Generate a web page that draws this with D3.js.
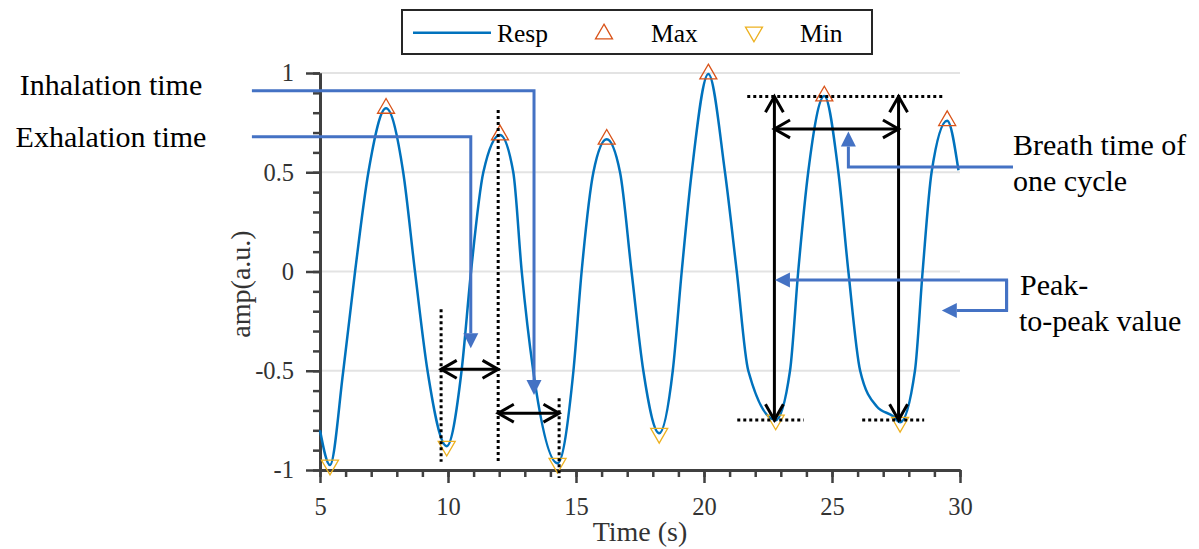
<!DOCTYPE html>
<html>
<head>
<meta charset="utf-8">
<script src="https://cdn.jsdelivr.net/npm/d3@7"></script>
<style>
  body { margin: 0; background: #fff; }
  svg { display: block; }
  svg text { font-family: "Liberation Serif", "Times New Roman", "DejaVu Serif", serif !important; }
</style>
</head>
<body>
<svg id="chart" width="1199" height="549"></svg>
<script>
// respiration signal
const respTime = [5.0, 5.39, 5.91, 6.37, 6.89, 7.58, 8.25, 8.71, 9.2, 9.95,
  10.53, 10.9, 11.38, 12.03, 12.55, 12.88, 13.33, 14.28, 14.9, 15.22,
  15.68, 16.2, 16.72, 17.17, 17.63, 18.25, 18.78, 19.13, 19.52, 20.17,
  20.82, 21.28, 21.73, 22.8, 23.36, 23.68, 24.07, 24.7, 25.25, 25.64,
  26.1, 26.75, 27.4, 27.66, 28.24, 28.54, 28.89, 29.5, 29.94];
const respAmp = [-0.80, -0.975, -0.5, 0, 0.5, 0.822, 0.5, 0, -0.5, -0.88,
  -0.5, 0, 0.5, 0.688, 0.5, 0, -0.5, -0.966, -0.5, 0,
  0.5, 0.666, 0.5, 0, -0.5, -0.815, -0.5, 0, 0.5, 0.995,
  0.5, 0, -0.5, -0.748, -0.5, 0, 0.5, 0.884, 0.5, 0,
  -0.5, -0.68, -0.73, -0.76, -0.5, 0, 0.5, 0.76, 0.51];

const maxTime = [7.58, 12.03, 16.2, 20.17, 24.7, 29.5];
const maxAmp = [0.822, 0.688, 0.666, 0.995, 0.884, 0.76];
const minTime = [5.39, 9.95, 14.28, 18.25, 22.8, 27.66];
const minAmp = [-0.975, -0.88, -0.966, -0.815, -0.748, -0.76];

const xTicks = [5, 10, 15, 20, 25, 30];
const yTicks = [-1, -0.5, 0, 0.5, 1];
const legendLabels = ["Resp", "Max", "Min"];

const lineColor = "#0072BD";
const maxColor = "#D95319";
const minColor = "#EDB120";
const blue = "#4472C4";
const axisColor = "#404040";
const serif = "'Liberation Serif', 'Times New Roman', 'DejaVu Serif', serif";

const svg = d3.select("#chart");
const x = d3.scaleLinear().domain([5, 30]).range([320, 960]);
const y = d3.scaleLinear().domain([-1, 1]).range([470, 73]);

// grid
svg.append("g")
  .selectAll("line")
  .data(yTicks.filter(d => d > -1))
  .join("line")
  .attr("x1", x(5)).attr("x2", x(30))
  .attr("y1", d => y(d)).attr("y2", d => y(d))
  .attr("stroke", "#e3e3e3")
  .attr("stroke-width", 2);

// axes
function styleAxis(g) {
  g.attr("font-family", serif);
  g.select(".domain").attr("stroke", axisColor).attr("stroke-width", 3);
  g.selectAll(".tick line").attr("stroke", axisColor).attr("stroke-width", 2.5);
  g.selectAll(".tick text").attr("fill", "#333").attr("font-size", 24.5);
}

svg.append("g")
  .attr("transform", `translate(0,${y(-1)})`)
  .call(d3.axisBottom(x).tickValues(d3.range(5, 31)).tickSize(7).tickFormat("").tickSizeOuter(0))
  .call(styleAxis);
svg.append("g")
  .attr("transform", `translate(0,${y(-1)})`)
  .call(d3.axisBottom(x).tickValues(xTicks).tickSize(13).tickPadding(15).tickSizeOuter(0))
  .call(styleAxis);
svg.append("g")
  .attr("transform", `translate(${x(5)},0)`)
  .call(d3.axisLeft(y).tickValues(d3.range(-10, 11).map(d => d / 10)).tickSize(7).tickFormat("").tickSizeOuter(0))
  .call(styleAxis);
svg.append("g")
  .attr("transform", `translate(${x(5)},0)`)
  .call(d3.axisLeft(y).tickValues(yTicks).tickSize(14).tickPadding(12).tickSizeOuter(0)
    .tickFormat(d => d))
  .call(styleAxis);

svg.append("text")
  .attr("x", 640).attr("y", 541)
  .attr("text-anchor", "middle")
  .attr("font-family", serif)
  .attr("font-size", 28).attr("fill", "#333")
  .text("Time (s)");
svg.append("text")
  .attr("transform", "translate(250,284) rotate(-90)")
  .attr("text-anchor", "middle")
  .attr("font-family", serif)
  .attr("font-size", 28).attr("fill", "#333")
  .text("amp(a.u.)");

// signal
const resp = respTime.map((t, i) => [t, respAmp[i]]);
svg.append("path")
  .datum(resp)
  .attr("fill", "none")
  .attr("stroke", lineColor)
  .attr("stroke-width", 2.5)
  .attr("d", d3.line().x(d => x(d[0])).y(d => y(d[1])).curve(d3.curveMonotoneX));

const tri = d3.symbol().type(d3.symbolTriangle).size(125);
svg.append("g")
  .selectAll("path")
  .data(maxTime.map((t, i) => [t, maxAmp[i]]))
  .join("path")
  .attr("d", tri)
  .attr("transform", d => `translate(${x(d[0])},${y(d[1])})`)
  .attr("fill", "none").attr("stroke", maxColor).attr("stroke-width", 1.3);
svg.append("g")
  .selectAll("path")
  .data(minTime.map((t, i) => [t, minAmp[i]]))
  .join("path")
  .attr("d", tri)
  .attr("transform", d => `translate(${x(d[0])},${y(d[1])}) rotate(180)`)
  .attr("fill", "none").attr("stroke", minColor).attr("stroke-width", 1.3);

// annotations (data units)
const ann = svg.append("g");

function dotted(t1, a1, t2, a2) {
  ann.append("line")
    .attr("x1", x(t1)).attr("y1", y(a1)).attr("x2", x(t2)).attr("y2", y(a2))
    .attr("stroke", "#000").attr("stroke-width", 3).attr("stroke-dasharray", "3,3");
}

function chevron(px, py, ang) {
  const L = 18, s = 0.52;
  const p1 = [px - L * Math.cos(ang - s), py - L * Math.sin(ang - s)];
  const p2 = [px - L * Math.cos(ang + s), py - L * Math.sin(ang + s)];
  ann.append("path")
    .attr("d", d3.line()([p1, [px, py], p2]))
    .attr("fill", "none").attr("stroke", "#000").attr("stroke-width", 3);
}

function doubleArrow(t1, a1, t2, a2) {
  const x1 = x(t1), y1 = y(a1), x2 = x(t2), y2 = y(a2);
  ann.append("line").attr("x1", x1).attr("y1", y1).attr("x2", x2).attr("y2", y2)
    .attr("stroke", "#000").attr("stroke-width", 3);
  const ang = Math.atan2(y2 - y1, x2 - x1);
  chevron(x2, y2, ang);
  chevron(x1, y1, ang + Math.PI);
}

function blueArrow(pts) {
  const p = pts.map(d => [x(d[0]), y(d[1])]);
  const n = p.length;
  const [xa, ya] = p[n - 2], [xb, yb] = p[n - 1];
  const ang = Math.atan2(yb - ya, xb - xa), L = 15, W = 7.5;
  const base = [xb - L * Math.cos(ang), yb - L * Math.sin(ang)];
  ann.append("path")
    .attr("d", d3.line()(p.slice(0, n - 1).concat([base])))
    .attr("fill", "none").attr("stroke", blue).attr("stroke-width", 3);
  ann.append("path")
    .attr("d", d3.line()([[xb, yb],
      [base[0] + W * Math.sin(ang), base[1] - W * Math.cos(ang)],
      [base[0] - W * Math.sin(ang), base[1] + W * Math.cos(ang)]]) + "Z")
    .attr("fill", blue);
}

// left: inhalation / exhalation
dotted(9.73, -0.19, 9.73, -0.958);
dotted(11.96, 0.814, 11.96, -0.97);
dotted(14.34, -0.639, 14.34, -1.04);
doubleArrow(9.73, -0.493, 11.96, -0.493);
doubleArrow(11.96, -0.714, 14.34, -0.714);
blueArrow([[2.34, 0.911], [13.36, 0.911], [13.36, -0.622]]);
blueArrow([[2.34, 0.679], [10.89, 0.679], [10.89, -0.387]]);

// right: breath cycle / peak-to-peak
dotted(21.69, 0.881, 29.41, 0.881);
dotted(21.3, -0.748, 23.9, -0.748);
dotted(26.18, -0.748, 28.6, -0.748);
doubleArrow(22.75, -0.748, 22.75, 0.881);
doubleArrow(27.6, -0.748, 27.6, 0.881);
doubleArrow(22.75, 0.718, 27.6, 0.718);
blueArrow([[32.07, 0.526], [25.64, 0.526], [25.64, 0.705]]);
blueArrow([[31.82, -0.197], [31.82, -0.043], [22.77, -0.043]]);
blueArrow([[31.82, -0.043], [31.82, -0.197], [29.29, -0.197]]);

const notes = [
  { text: "Inhalation time", x: 111, y: 95, anchor: "middle" },
  { text: "Exhalation time", x: 111, y: 147, anchor: "middle" },
  { text: "Breath time of", x: 1013, y: 155, anchor: "start" },
  { text: "one cycle", x: 1013, y: 191, anchor: "start" },
  { text: "Peak-", x: 1020, y: 295, anchor: "start" },
  { text: "to-peak value", x: 1019, y: 331, anchor: "start" }
];
svg.append("g")
  .selectAll("text")
  .data(notes)
  .join("text")
  .attr("x", d => d.x).attr("y", d => d.y)
  .attr("text-anchor", d => d.anchor)
  .attr("font-family", serif)
  .attr("font-size", 30).attr("fill", "#000")
  .text(d => d.text);

// legend
const leg = svg.append("g");
leg.append("rect")
  .attr("x", 402).attr("y", 10).attr("width", 470).attr("height", 44)
  .attr("fill", "#fff").attr("stroke", "#262626").attr("stroke-width", 2);
leg.append("line")
  .attr("x1", 413).attr("x2", 491).attr("y1", 32.7).attr("y2", 32.7)
  .attr("stroke", lineColor).attr("stroke-width", 2.5);
leg.append("path").attr("d", tri).attr("transform", "translate(604,34)")
  .attr("fill", "none").attr("stroke", maxColor).attr("stroke-width", 1.3);
leg.append("path").attr("d", tri).attr("transform", "translate(754,32) rotate(180)")
  .attr("fill", "none").attr("stroke", minColor).attr("stroke-width", 1.3);
leg.selectAll("text.lab")
  .data(legendLabels)
  .join("text")
  .attr("class", "lab")
  .attr("x", (d, i) => [497, 651, 800][i])
  .attr("y", 42)
  .attr("font-family", serif)
  .attr("font-size", 25.5).attr("fill", "#000")
  .text(d => d);
</script>
</body>
</html>
